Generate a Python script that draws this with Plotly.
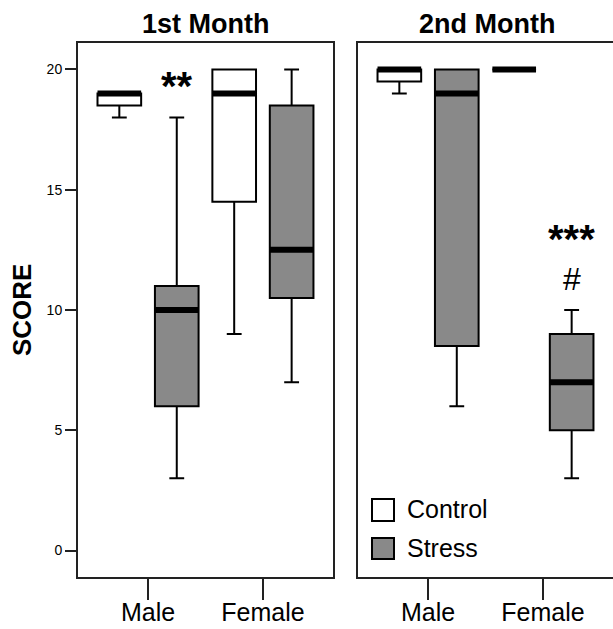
import plotly.graph_objects as go

# ---- data (five-number summaries: min, q1, median, q3, max) ----
groups = ["Male", "Female"]
months = ["1st Month", "2nd Month"]
treatments = ["Control", "Stress"]
m1_control = [[18, 18.5, 19, 19, 19], [9, 14.5, 19, 20, 20]]
m1_stress = [[3, 6, 10, 11, 18], [7, 10.5, 12.5, 18.5, 20]]
m2_control = [[19, 19.5, 20, 20, 20], [20, 20, 20, 20, 20]]
m2_stress = [[6, 8.5, 19, 20, 20], [3, 5, 7, 9, 10]]
y_ticks = [0, 5, 10, 15, 20]
# significance marks: (month index, group index, treatment index, y value, text)
sig_marks = [(0, 0, 1, 19.55, "**"), (1, 1, 1, 13.2, "***")]
hash_marks = [(1, 1, 1, 11.3, "#")]

fills = {"Control": "#ffffff", "Stress": "#898989"}
offsets = {"Control": -0.25, "Stress": 0.25}
BOXW = 0.38
FONT = "Liberation Sans, Arial, sans-serif"

fig = go.Figure()
panels = [(m1_control, m1_stress), (m2_control, m2_stress)]
for mi, (ctrl, strs) in enumerate(panels):
    xa = "x" if mi == 0 else "x2"
    ya = "y" if mi == 0 else "y2"
    for tname, stats in (("Control", ctrl), ("Stress", strs)):
        for gi, s in enumerate(stats):
            pos = gi + offsets[tname]
            fig.add_trace(go.Box(
                x=[pos], lowerfence=[s[0]], q1=[s[1]], median=[s[2]],
                q3=[s[3]], upperfence=[s[4]], width=BOXW,
                fillcolor=fills[tname], line=dict(color="black", width=2),
                whiskerwidth=0.34, boxpoints=False, showlegend=False,
                hoverinfo="skip", xaxis=xa, yaxis=ya))
    for tname, stats in (("Control", ctrl), ("Stress", strs)):
        for gi, s in enumerate(stats):
            pos = gi + offsets[tname]
            fig.add_trace(go.Scatter(
                x=[pos - BOXW / 2, pos + BOXW / 2], y=[s[2], s[2]],
                mode="lines", line=dict(color="black", width=6),
                showlegend=False, hoverinfo="skip", xaxis=xa, yaxis=ya))

for (mi, gi, ti, yv, txt) in sig_marks:
    fig.add_annotation(x=gi + offsets[treatments[ti]], y=yv, text="<b>%s</b>" % txt,
                       xref="x" if mi == 0 else "x2", yref="y" if mi == 0 else "y2",
                       showarrow=False, yanchor="middle", xanchor="center",
                       font=dict(family=FONT, size=40, color="black"), yshift=-6)
for (mi, gi, ti, yv, txt) in hash_marks:
    fig.add_annotation(x=gi + offsets[treatments[ti]], y=yv, text=txt,
                       xref="x" if mi == 0 else "x2", yref="y" if mi == 0 else "y2",
                       showarrow=False, yanchor="middle", xanchor="center",
                       font=dict(family=FONT, size=32, color="black"))

axis_common = dict(range=[-0.61, 1.61], tickvals=[0, 1], ticktext=groups,
                   showline=True, mirror=True, linewidth=2, linecolor="#222",
                   ticks="outside", ticklen=21, tickwidth=2, tickcolor="#222",
                   showgrid=False, zeroline=False, automargin=False,
                   ticklabelstandoff=-9,
                   tickfont=dict(family=FONT, size=25, color="black"))
yaxis_common = dict(range=[-1.1, 21.1], showline=True, mirror=True, linewidth=2,
                    linecolor="#222", showgrid=False, zeroline=False, automargin=False,
                    domain=[0.0827, 0.9316])

fig.update_layout(
    width=613, height=629, margin=dict(l=0, r=0, t=0, b=0),
    paper_bgcolor="white", plot_bgcolor="white", boxmode="overlay",
    showlegend=False,
    xaxis=dict(domain=[0.1272, 0.5432], anchor="y", **axis_common),
    xaxis2=dict(domain=[0.584, 1.0], anchor="y2", **axis_common),
    yaxis=dict(anchor="x", tickvals=y_ticks, ticks="outside", ticklen=11,
               tickwidth=2, tickcolor="#222",
               tickfont=dict(family=FONT, size=14, color="black"), **yaxis_common),
    yaxis2=dict(anchor="x2", showticklabels=False, ticks="", **yaxis_common),
)

# panel titles
for mi, xc in enumerate([206 / 613, 487 / 613]):
    fig.add_annotation(x=xc, y=1 - 24 / 629, xref="paper", yref="paper",
                       text="<b>%s</b>" % months[mi], xanchor="center", yanchor="middle",
                       showarrow=False, font=dict(family=FONT, size=27, color="black"))
# y axis title
fig.add_annotation(x=22 / 613, y=0.507, xref="paper", yref="paper", text="<b>SCORE</b>",
                   textangle=-90, showarrow=False, xanchor="center", yanchor="middle",
                   font=dict(family=FONT, size=26, color="black"))

# legend (manual)
leg = [("Control", 499, 521, 508.5), ("Stress", 538, 559, 548)]
for name, top, bot, tc in leg:
    fig.add_shape(type="rect", xref="paper", yref="paper",
                  x0=372 / 613, x1=394 / 613, y0=1 - bot / 629, y1=1 - top / 629,
                  fillcolor=fills[name], line=dict(color="black", width=2))
    fig.add_annotation(x=405 / 613, y=1 - tc / 629, xref="paper", yref="paper",
                       text=name, showarrow=False, xanchor="left", yanchor="middle",
                       font=dict(family=FONT, size=25, color="black"))

fig.write_html("out.html")
